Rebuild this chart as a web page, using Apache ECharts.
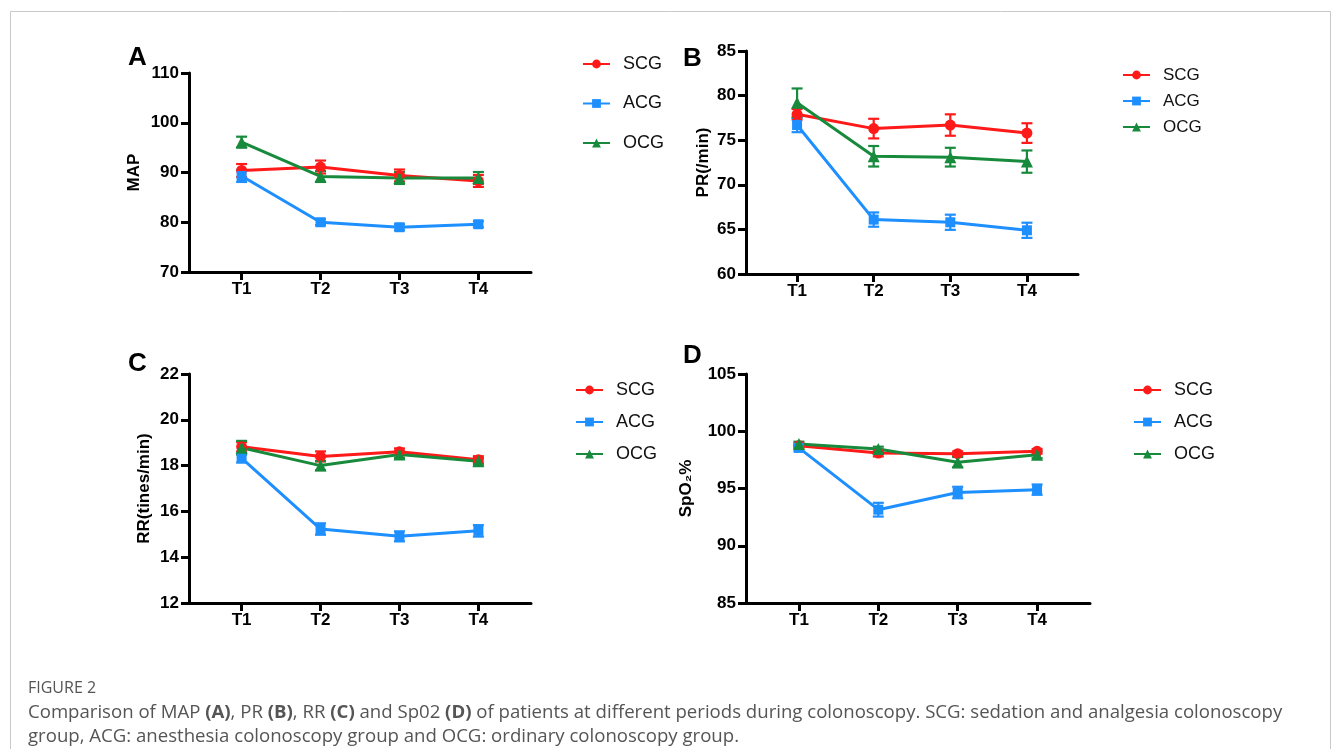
<!DOCTYPE html>
<html><head><meta charset="utf-8">
<script src="https://cdn.jsdelivr.net/npm/echarts@6/dist/echarts.min.js"></script>
<style>html,body{margin:0;padding:0;background:#fff;}#c{width:1333px;height:749px;}</style>
</head><body><div id="c"></div>
<script>
// ---------- data ----------
const timepoints = ['T1', 'T2', 'T3', 'T4'];
const groups = ['SCG', 'ACG', 'OCG'];

// Panel A: MAP
const mapSCG = [90.4, 91.1, 89.4, 88.3];
const mapSCGErr = [1.3, 1.3, 1.2, 1.2];
const mapACG = [89.3, 80.0, 79.0, 79.6];
const mapACGErr = [1.2, 0.6, 0.6, 0.6];
const mapOCG = [96.1, 89.2, 88.9, 88.9];
const mapOCGErr = [1.1, 1.1, 1.2, 1.2];

// Panel B: PR
const prSCG = [77.9, 76.3, 76.7, 75.8];
const prSCGErr = [0.6, 1.1, 1.2, 1.1];
const prACG = [76.7, 66.1, 65.8, 64.9];
const prACGErr = [0.8, 0.8, 0.85, 0.85];
const prOCG = [79.2, 73.2, 73.1, 72.6];
const prOCGErr = [1.6, 1.15, 1.05, 1.25];

// Panel C: RR
const rrSCG = [18.82, 18.40, 18.60, 18.26];
const rrSCGErr = [0.2, 0.22, 0.15, 0.15];
const rrACG = [18.33, 15.23, 14.91, 15.15];
const rrACGErr = [0.2, 0.25, 0.22, 0.25];
const rrOCG = [18.78, 18.00, 18.48, 18.19];
const rrOCGErr = [0.3, 0.2, 0.15, 0.15];

// Panel D: SpO2
const spoSCG = [98.74, 98.10, 98.04, 98.25];
const spoSCGErr = [0.2, 0.3, 0.2, 0.2];
const spoACG = [98.55, 93.15, 94.65, 94.90];
const spoACGErr = [0.3, 0.6, 0.5, 0.45];
const spoOCG = [98.89, 98.45, 97.30, 97.95];
const spoOCGErr = [0.2, 0.2, 0.45, 0.3];

// ---------- layout / style ----------
const FONT = '"Liberation Sans", Arial, Helvetica, sans-serif';
const groupColors = ['#ff1a1a', '#1e8fff', '#178a3c'];
const groupSymbols = ['circle', 'rect', 'triangle'];
const groupSymbolSizes = [11, 10, 12];

const panels = [
  { letter: 'A', name: 'MAP', min: 70, max: 110, interval: 10,
    vals: [mapSCG, mapACG, mapOCG], errs: [mapSCGErr, mapACGErr, mapOCGErr],
    grid: { left: 189, top: 73, width: 342, height: 199 }, nameGap: 46,
    letterPos: [128, 45],
    legend: { left: 582, top: 55, itemGap: 21.5, fontSize: 18 } },
  { letter: 'B', name: 'PR(/min)', min: 60, max: 85, interval: 5,
    vals: [prSCG, prACG, prOCG], errs: [prSCGErr, prACGErr, prOCGErr],
    grid: { left: 746, top: 51, width: 332, height: 223 }, nameGap: 34,
    letterPos: [683, 46],
    legend: { left: 1122, top: 66, itemGap: 8, fontSize: 17 } },
  { letter: 'C', name: 'RR(tines/min)', min: 12, max: 22, interval: 2,
    vals: [rrSCG, rrACG, rrOCG], errs: [rrSCGErr, rrACGErr, rrOCGErr],
    grid: { left: 189, top: 374, width: 342, height: 229 }, nameGap: 36,
    letterPos: [128, 351],
    legend: { left: 575, top: 381, itemGap: 14, fontSize: 18 } },
  { letter: 'D', name: 'SpO\u2082%', min: 85, max: 105, interval: 5,
    vals: [spoSCG, spoACG, spoOCG], errs: [spoSCGErr, spoACGErr, spoOCGErr],
    grid: { left: 746, top: 374, width: 344, height: 229 }, nameGap: 51,
    letterPos: [683, 343],
    legend: { left: 1133, top: 381, itemGap: 14, fontSize: 18 } }
];

function errRender(params, api) {
  const x = api.value(0), lo = api.value(1), hi = api.value(2);
  const p1 = api.coord([x, hi]), p2 = api.coord([x, lo]);
  const hw = 5.5;
  const style = { stroke: api.visual('color'), lineWidth: 2.2 };
  return { type: 'group', children: [
    { type: 'line', shape: { x1: p1[0], y1: p1[1], x2: p2[0], y2: p2[1] }, style },
    { type: 'line', shape: { x1: p1[0] - hw, y1: p1[1], x2: p1[0] + hw, y2: p1[1] }, style },
    { type: 'line', shape: { x1: p2[0] - hw, y1: p2[1], x2: p2[0] + hw, y2: p2[1] }, style }
  ]};
}

const xPositions = timepoints.map((t, i) => i + 1);

const option = {
  animation: false,
  backgroundColor: '#fff',
  grid: [], xAxis: [], yAxis: [], series: [], legend: [],
  graphic: []
};

panels.forEach((p, pi) => {
  option.grid.push(Object.assign({ containLabel: false }, p.grid));
  option.xAxis.push({
    type: 'value', gridIndex: pi, min: 1 / 3, max: timepoints.length + 2 / 3,
    splitLine: { show: false },
    axisLine: { show: true, lineStyle: { color: '#000', width: 3 } },
    axisTick: { show: true, customValues: xPositions, length: 8, lineStyle: { color: '#000', width: 3 } },
    axisLabel: { show: true, customValues: xPositions, margin: 9,
      formatter: v => timepoints[Math.round(v) - 1] || '',
      color: '#000', fontWeight: 'bold', fontSize: 17, fontFamily: FONT }
  });
  option.yAxis.push({
    type: 'value', gridIndex: pi, min: p.min, max: p.max, interval: p.interval,
    name: p.name, nameLocation: 'middle', nameGap: p.nameGap,
    nameTextStyle: { color: '#000', fontWeight: 'bold', fontSize: 17, fontFamily: FONT },
    splitLine: { show: false },
    axisLine: { show: true, lineStyle: { color: '#000', width: 3 } },
    axisTick: { show: true, length: 8, lineStyle: { color: '#000', width: 3 } },
    axisLabel: { margin: 10, color: '#000', fontWeight: 'bold', fontSize: 17, fontFamily: FONT }
  });
  groups.forEach((g, gi) => {
    option.series.push({
      type: 'custom', name: g + ' err', xAxisIndex: pi, yAxisIndex: pi,
      renderItem: errRender, clip: false, z: 3,
      itemStyle: { color: groupColors[gi] },
      encode: { x: 0, y: [1, 2] },
      data: p.vals[gi].map((v, i) => [xPositions[i], v - p.errs[gi][i], v + p.errs[gi][i]])
    });
  });
  groups.forEach((g, gi) => {
    option.series.push({
      type: 'line', name: g, xAxisIndex: pi, yAxisIndex: pi, z: 4,
      symbol: groupSymbols[gi], symbolSize: groupSymbolSizes[gi],
      lineStyle: { color: groupColors[gi], width: 3 },
      itemStyle: { color: groupColors[gi] },
      data: p.vals[gi].map((v, i) => [xPositions[i], v])
    });
  });
  option.legend.push({
    data: groups, orient: 'vertical', left: p.legend.left, top: p.legend.top, padding: 0,
    itemWidth: 27, itemHeight: 11, itemGap: p.legend.itemGap, selectedMode: false,
    textStyle: { fontSize: p.legend.fontSize, lineHeight: 18, color: '#111', fontFamily: FONT, padding: [0, 0, 0, 8] }
  });
  option.graphic.push({
    type: 'text', left: p.letterPos[0], top: p.letterPos[1],
    style: { text: p.letter, font: 'bold 26px ' + FONT, fill: '#000' }
  });
});

// border and caption
const CAP_FONT = '"Open Sans", "Noto Sans", sans-serif';
option.graphic.push(
  { type: 'rect', shape: { x: 10.5, y: 11.5, width: 1320, height: 800 },
    style: { fill: 'none', stroke: '#c9c9c9', lineWidth: 1 }, z: -1, silent: true },
  { type: 'text', left: 28, top: 680,
    style: { text: 'FIGURE 2', font: '500 16px ' + CAP_FONT, fill: '#555' } },
  { type: 'text', left: 28, top: 703,
    style: { text: 'Comparison of MAP {b|(A)}, PR {b|(B)}, RR {b|(C)} and Sp02 {b|(D)} of patients at different periods during colonoscopy. SCG: sedation and analgesia colonoscopy',
      font: '18.6px ' + CAP_FONT, fill: '#555',
      rich: { b: { fontWeight: 'bold', fontSize: 18.6, fontFamily: CAP_FONT, fill: '#555' } } } },
  { type: 'text', left: 28, top: 727,
    style: { text: 'group, ACG: anesthesia colonoscopy group and OCG: ordinary colonoscopy group.',
      font: '18.6px ' + CAP_FONT, fill: '#555' } }
);

const chart = echarts.init(document.getElementById('c'), null, { renderer: 'canvas' });
chart.setOption(option);
</script>
</body></html>
